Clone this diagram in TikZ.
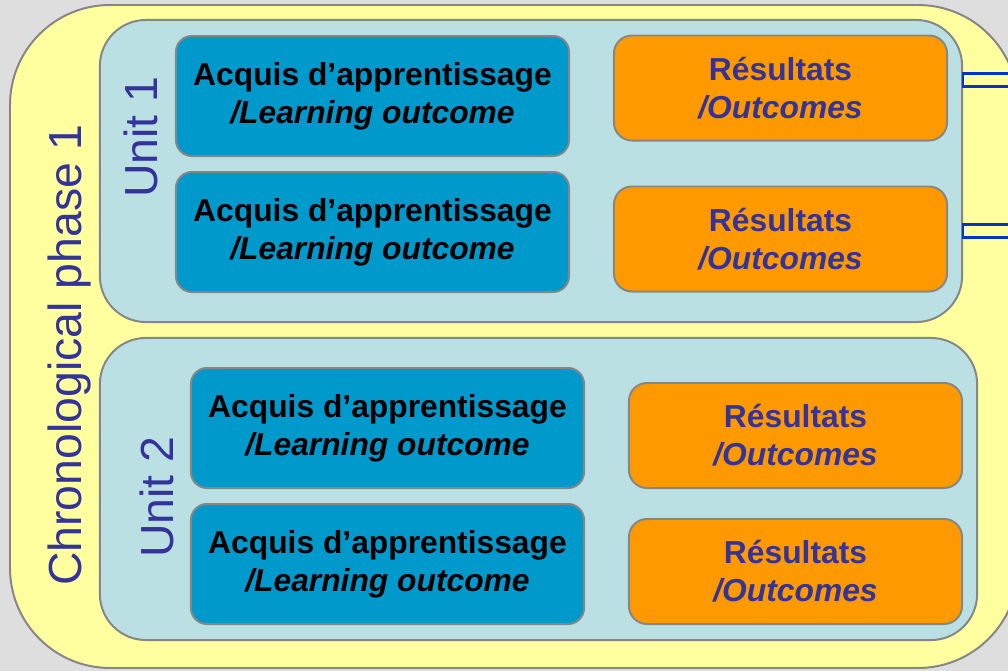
\documentclass[tikz,border=0pt]{standalone}
\usepackage{fontspec}
\setmainfont{Liberation Sans}
\usetikzlibrary{calc}

\definecolor{pagegray}{HTML}{DEDEDE}
\definecolor{phaseyellow}{HTML}{FFFFA0}
\definecolor{unitcyan}{HTML}{BBE0E3}
\definecolor{acqblue}{HTML}{0099CC}
\definecolor{resorange}{HTML}{FF9900}
\definecolor{titleblue}{HTML}{333399}
\definecolor{linkblue}{HTML}{0033CC}
\definecolor{framegray}{HTML}{868686}

\tikzset{
  frame/.style={draw=framegray, line width=1.4pt},
  phasebox/.style={frame, fill=phaseyellow, rounded corners=2.5cm},
  unitbox/.style={frame, fill=unitcyan, rounded corners=1.15cm,
    minimum height=7.55cm},
  acqbox/.style={frame, fill=acqblue, rounded corners=0.4cm, align=center,
    minimum width=9.825cm, minimum height=3cm,
    font=\bfseries\fontsize{22.6}{27}\selectfont},
  resbox/.style={frame, fill=resorange, rounded corners=0.45cm, align=center,
    minimum width=8.325cm, minimum height=2.625cm, text=titleblue,
    font=\bfseries\fontsize{22.6}{27}\selectfont},
  vlabel/.style={rotate=90, anchor=base, text=titleblue,
    font=\fontsize{33}{40}\selectfont},
  link/.style={draw=linkblue, line width=1.8pt, fill=phaseyellow}
}

\begin{document}
\begin{tikzpicture}[x=0.025cm, y=-0.025cm]
  \useasboundingbox (0,0) rectangle (1008,671);
  \fill[pagegray] (0,0) rectangle (1008,671);

  % phase frame
  \draw[phasebox] (10,5) rectangle (1018,668);
  \node[vlabel] (phase) at (81,355) {Chronological phase 1};

  % the two units
  \node[unitbox, minimum width=21.55cm] (unit1) at (531,171) {};
  \node[unitbox, minimum width=21.925cm] (unit2) at (538.5,489) {};
  \node[vlabel] (lab1) at (157,137) {Unit 1};
  \node[vlabel] (lab2) at (173,497) {Unit 2};

  % learning outcomes and outcomes
  \foreach \u/\dx/\ya/\yb/\ra/\rb in {1/0/96/232/88/239, 2/15/428/564/435.5/571.5} {
    \node[acqbox] (acq\u a) at (372.5+\dx,\ya)
      {Acquis d’apprentissage\\\textit{/Learning outcome}};
    \node[acqbox] (acq\u b) at (372.5+\dx,\yb)
      {Acquis d’apprentissage\\\textit{/Learning outcome}};
    \node[resbox] (res\u a) at (780.5+\dx,\ra) {Résultats\\\textit{/Outcomes}};
    \node[resbox] (res\u b) at (780.5+\dx,\rb) {Résultats\\\textit{/Outcomes}};
  }

  % links leaving unit 1
  \coordinate (out1) at (1040,80);
  \coordinate (out2) at (1040,231);
  \draw[link] ($(unit1.east |- out1)+(0,-6.75)$) rectangle ($(out1)+(0,6.75)$);
  \draw[link] ($(unit1.east |- out2)+(0,-6.75)$) rectangle ($(out2)+(0,6.75)$);
\end{tikzpicture}
\end{document}
